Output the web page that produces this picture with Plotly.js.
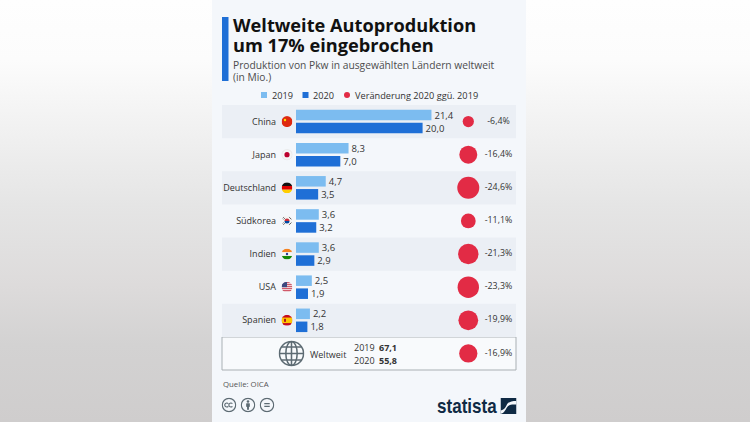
<!DOCTYPE html>
<html><head><meta charset="utf-8">
<script src="https://cdn.plot.ly/plotly-3.0.1.min.js"></script>
<style>html,body{margin:0;padding:0;background:linear-gradient(#fefefe 0,#fcfcfc 60px,#f4f4f4 110px,#e5e5e5 205px,#dddbdb 285px,#d3d2d2 345px,#cfcdcd 422px);height:422px;overflow:hidden}#c{width:750px;height:422px}</style>
</head><body><div id="c"></div>
<script>
const categories = ['China','Japan','Deutschland','Südkorea','Indien','USA','Spanien','Weltweit'];
const values2019 = [21.4,8.3,4.7,3.6,3.6,2.5,2.2,null];
const values2020 = [20.0,7.0,3.5,3.2,2.9,1.9,1.8,null];
const change = [-6.4,-16.4,-24.6,-11.1,-21.3,-23.3,-19.9,-16.9];
const worldYears = ['2019','2020'];
const worldTotals = ['67,1','55,8'];
const titleLines = ['Weltweite Autoproduktion','um 17% eingebrochen'];
const subtitleLines = ['Produktion von Pkw in ausgewählten Ländern weltweit','(in Mio.)'];
const legendLabels = ['2019','2020','Veränderung 2020 ggü. 2019'];

const W=750,H=422, FONT='"Open Sans", sans-serif';
const C19='#7cbcf0', C20='#1f6fd6', RED='#e22b45', TXT='#333333';
const px=x=>x/W, py=y=>1-y/H;
const pxPerUnit=6.33, X0=296, X1=526, Y0=105, Y1=370;
const toData=p=>(p-X0)/pxPerUnit;
const rowH=(Y1-Y0)/categories.length;
const rowY=i=>Y0+rowH*(i+.5);

const barText={size:9.5,color:TXT,family:FONT};
const traces=[
 {type:'bar',orientation:'h',name:'2019',y:categories,x:values2019,marker:{color:C19},texttemplate:'%{x:.1f}',textposition:'outside',textangle:0,constraintext:'none',cliponaxis:false,textfont:barText},
 {type:'bar',orientation:'h',name:'2020',y:categories,x:values2020,marker:{color:C20},texttemplate:'%{x:.1f}',textposition:'outside',textangle:0,constraintext:'none',cliponaxis:false,textfont:barText},
 {type:'scatter',mode:'markers',name:legendLabels[2],y:categories,x:categories.map(()=>toData(468.3)),marker:{color:RED,opacity:1,size:change.map(Math.abs),sizemode:'area',sizeref:0.1017,line:{width:0}},cliponaxis:false},
 {type:'scatter',mode:'text',showlegend:false,y:categories,x:categories.map(()=>toData(498.5)),text:change.map(v=>v.toFixed(1).replace('.',',')+'%'),textposition:'middle center',textfont:{size:8.8,color:TXT,family:FONT},cliponaxis:false}
];

const shapes=[
 {type:'rect',layer:'below',xref:'paper',yref:'paper',x0:px(212),x1:px(526),y0:0,y1:1,fillcolor:'#f4f7fb',line:{width:0}},
 {type:'rect',layer:'below',xref:'paper',yref:'paper',x0:px(222),x1:px(228.5),y0:py(17),y1:py(81),fillcolor:C20,line:{width:0}},
 {type:'rect',layer:'below',xref:'paper',yref:'paper',x0:px(261),x1:px(267),y0:py(92),y1:py(98),fillcolor:C19,line:{width:0}},
 {type:'rect',layer:'below',xref:'paper',yref:'paper',x0:px(302.5),x1:px(308.5),y0:py(92),y1:py(98),fillcolor:C20,line:{width:0}},
 {type:'circle',layer:'below',xref:'paper',yref:'paper',x0:px(344),x1:px(350),y0:py(92),y1:py(98),fillcolor:RED,line:{width:0}},
 {type:'rect',layer:'below',xref:'paper',yref:'paper',x0:px(222),x1:px(516),y0:py(337),y1:py(370),fillcolor:'#f8fafc',line:{width:1,color:'#a9b0b4'}}
];
[0,2,4,6].forEach(i=>{shapes.push({type:'rect',layer:'below',xref:'paper',yref:'paper',x0:px(222),x1:px(516),y0:py(Y0+rowH*i),y1:py(Y0+rowH*(i+1)),fillcolor:'#ebeff5',line:{width:0}});});

const ann=(x,y,text,size,color,anchor,extra)=>Object.assign({xref:'paper',yref:'paper',x:px(x),y:py(y),text,showarrow:false,xanchor:anchor||'left',yanchor:'middle',align:anchor||'left',borderpad:0,font:{size,color,family:FONT}},extra||{});
const annotations=[
 ann(232,25,'<b>'+titleLines[0]+'</b>',18.2,'#111111'),
 ann(232,45,'<b>'+titleLines[1]+'</b>',18.2,'#111111'),
 ann(232,64.5,subtitleLines[0],10.25,'#4d4d4d'),
 ann(232,77,subtitleLines[1],10.25,'#4d4d4d'),
 ann(270.5,95,legendLabels[0],9.2,TXT),
 ann(312,95,legendLabels[1],9.2,TXT),
 ann(353.5,95,legendLabels[2],9.2,TXT),
 ann(309,354,categories[7],9,TXT),
 ann(352.5,347,worldYears[0],9,TXT),
 ann(352.5,360.5,worldYears[1],9,TXT),
 ann(378,347,'<b>'+worldTotals[0]+'</b>',9,TXT),
 ann(378,360.5,'<b>'+worldTotals[1]+'</b>',9,TXT),
 ann(221.5,384,'Quelle: OICA',7.8,'#555555'),
 ann(497.5,405.5,'<b>statista</b>',21,'#0f2a44','right',{font:{size:21,color:'#0f2a44',family:'"Liberation Sans",sans-serif'}})
];

const svg=s=>'data:image/svg+xml;charset=utf-8,'+encodeURIComponent('<svg xmlns="http://www.w3.org/2000/svg" viewBox="0 0 22 22">'+s+'</svg>');
const clip='<defs><clipPath id="k"><circle cx="11" cy="11" r="11"/></clipPath></defs><g clip-path="url(#k)">';
const flags=[
 clip+'<rect width="22" height="22" fill="#de2910"/><circle cx="7" cy="8" r="2.4" fill="#ffde00"/></g>',
 clip+'<rect width="22" height="22" fill="#f5f5f5"/><circle cx="11" cy="11" r="5.2" fill="#bc002d"/></g><circle cx="11" cy="11" r="10.5" fill="none" stroke="#ddd"/>',
 clip+'<rect width="22" height="7.4" fill="#111"/><rect y="7.4" width="22" height="7.4" fill="#dd0000"/><rect y="14.8" width="22" height="7.4" fill="#ffce00"/></g>',
 clip+'<rect width="22" height="22" fill="#f5f5f5"/><path d="M6 11a5 5 0 0 1 10 0z" fill="#cd2e3a"/><path d="M6 11a5 5 0 0 0 10 0z" fill="#0047a0"/><path d="M2 6l3-3M4 8l3-3M15 3l3 3M17 5l3 3M2 16l3 3M4 14l3 3M15 19l3-3M17 17l3-3" stroke="#222" stroke-width="1.2"/></g>',
 clip+'<rect width="22" height="7.4" fill="#f58220"/><rect y="7.4" width="22" height="7.4" fill="#f5f5f5"/><rect y="14.8" width="22" height="7.4" fill="#138808"/><circle cx="11" cy="11" r="2.4" fill="#2a3b8f"/></g>',
 clip+'<rect width="22" height="22" fill="#f5f5f5"/><path d="M0 2h22M0 6h22M0 10h22M0 14h22M0 18h22" stroke="#c8364a" stroke-width="2"/><rect width="11" height="11" fill="#3c4a80"/></g>',
 clip+'<rect width="22" height="22" fill="#c60b1e"/><rect y="5.5" width="22" height="11" fill="#ffc400"/><rect x="5" y="8" width="4" height="6" fill="#ad1519"/></g>'
];
const images=flags.map((f,i)=>({source:svg(f),xref:'paper',yref:'paper',x:px(287),y:py(rowY(i)),sizex:11/W,sizey:11/H,xanchor:'center',yanchor:'middle',sizing:'stretch',layer:'above'}));
const G='#5d6b73';
const icon=(x,y,s,c)=>({source:svg(c),xref:'paper',yref:'paper',x:px(x),y:py(y),sizex:s/W,sizey:s/H,xanchor:'center',yanchor:'middle',sizing:'stretch',layer:'above'});
images.push(icon(291.5,353.5,26,'<g fill="none" stroke="'+G+'" stroke-width="1.3"><circle cx="11" cy="11" r="10.2"/><ellipse cx="11" cy="11" rx="4.8" ry="10.2"/><path d="M11 .8v20.4M1 11h20M2.5 5.5h17M2.5 16.5h17"/></g>'));
const ring='<circle cx="11" cy="11" r="9.8" fill="none" stroke="'+G+'" stroke-width="1.7"/>';
images.push(icon(229,405,15,ring+'<path d="M10 9a3 3 0 1 0 0 4M16 9a3 3 0 1 0 0 4" fill="none" stroke="'+G+'" stroke-width="1.6"/>'));
images.push(icon(248,405,15,ring+'<circle cx="11" cy="5.8" r="1.9" fill="'+G+'"/><rect x="8.3" y="8.3" width="5.4" height="5.5" rx="1" fill="'+G+'"/><rect x="9.6" y="13" width="2.8" height="5" fill="'+G+'"/>'));
images.push(icon(267,405,15,ring+'<path d="M7 9h8M7 13h8" stroke="'+G+'" stroke-width="1.8"/>'));
images.push(icon(508.5,406,16,'<rect width="22" height="22" fill="#0f2a44"/><path d="M0 22C8 20 7 11 13 9.5C16 8.8 19 9 22 9V4C15 4 11 5 8.5 9.5C6 14 5 16 0 17Z" fill="#f4f7fb"/>'));

const layout={
 width:W,height:H,margin:{l:0,r:0,t:0,b:0,pad:0},
 paper_bgcolor:'rgba(0,0,0,0)',plot_bgcolor:'rgba(0,0,0,0)',
 separators:',.',showlegend:false,barmode:'group',bargap:0.215,bargroupgap:0.19,
 xaxis:{domain:[px(X0),px(X1)],range:[0,(X1-X0)/pxPerUnit],visible:false,fixedrange:true},
 yaxis:{domain:[py(Y1),py(Y0)],type:'category',categoryorder:'array',categoryarray:categories,range:[categories.length-.5,-.5],
  tickmode:'array',tickvals:categories.slice(0,7),ticktext:categories.slice(0,7),ticks:'',ticklabelstandoff:19,showgrid:false,zeroline:false,showline:false,
  tickfont:{size:9,color:TXT,family:FONT},fixedrange:true},
 shapes,annotations,images,font:{family:FONT}
};
Plotly.newPlot('c',traces,layout,{displayModeBar:false,staticPlot:true}).then(()=>{
 const all=document.querySelectorAll('.annotation-text');
 const logo=all[all.length-1];
 logo.style.transformBox='fill-box';logo.style.transformOrigin='right center';logo.style.transform='scaleX(0.81)';
});
</script></body></html>
